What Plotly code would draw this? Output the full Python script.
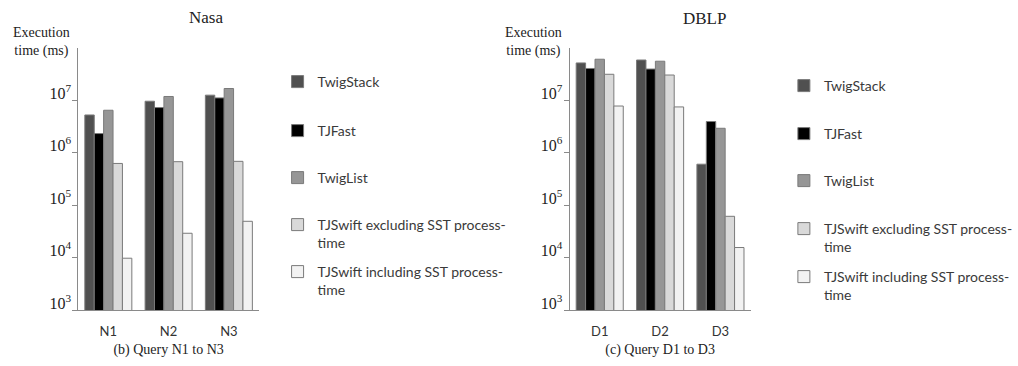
import plotly.graph_objects as go

# Query categories for the two datasets
nasa_queries = ["N1", "N2", "N3"]
dblp_queries = ["D1", "D2", "D3"]

# Series names
series_names = [
    "TwigStack",
    "TJFast",
    "TwigList",
    "TJSwift excluding SST process-<br>time",
    "TJSwift including SST process-<br>time",
]

# Execution time (ms), Nasa queries
nasa_twigstack = [5.2e6, 9.5e6, 1.24e7]
nasa_tjfast = [2.3e6, 7.2e6, 1.1e7]
nasa_twiglist = [6.4e6, 1.17e7, 1.66e7]
nasa_tjswift_excl = [6.2e5, 6.7e5, 6.8e5]
nasa_tjswift_incl = [9.7e3, 2.9e4, 4.9e4]

# Execution time (ms), DBLP queries
dblp_twigstack = [5.1e7, 5.8e7, 6.0e5]
dblp_tjfast = [4.0e7, 3.9e7, 3.9e6]
dblp_twiglist = [6.0e7, 5.5e7, 2.9e6]
dblp_tjswift_excl = [3.1e7, 3.0e7, 6.1e4]
dblp_tjswift_incl = [7.7e6, 7.4e6, 1.55e4]

# Log-axis ticks
tick_values = [1e3, 1e4, 1e5, 1e6, 1e7]
tick_labels = ["10<sup>3</sup>", "10<sup>4</sup>", "10<sup>5</sup>",
               "10<sup>6</sup>", "10<sup>7</sup>"]

colors = ["#505050", "#000000", "#969696", "#d9d9d9", "#f2f2f2"]

SERIF = "Liberation Serif"
SANS = "Lato"

W, H = 1018, 366

nasa_series = [nasa_twigstack, nasa_tjfast, nasa_twiglist,
               nasa_tjswift_excl, nasa_tjswift_incl]
dblp_series = [dblp_twigstack, dblp_tjfast, dblp_twiglist,
               dblp_tjswift_excl, dblp_tjswift_incl]

# Each legend entry sits in its own legend box so the spacing can be set
# per entry: (left px, top px) for the Nasa and DBLP legend columns.
nasa_legend_left = 284
dblp_legend_left = 802
nasa_legend_tops = [66, 115, 162, 209, 256]
dblp_legend_tops = [70, 118, 165, 213, 261]

legend_style = dict(
    font=dict(family=SANS, size=14, color="#3a3a3a"),
    bgcolor="rgba(0,0,0,0)",
    valign="top",
    itemwidth=30,
    xanchor="left",
    yanchor="top",
)

fig = go.Figure()
legends = {}

for i, (name, vals) in enumerate(zip(series_names, nasa_series)):
    lid = "legend" if i == 0 else "legend%d" % (i + 1)
    legends[lid] = dict(**legend_style, x=nasa_legend_left / W,
                        y=1 - nasa_legend_tops[i] / H)
    fig.add_trace(go.Bar(
        x=nasa_queries, y=vals, name=name,
        marker=dict(color=colors[i], line=dict(color="#7a7a7a", width=1)),
        xaxis="x", yaxis="y", legend=lid,
    ))

for i, (name, vals) in enumerate(zip(series_names, dblp_series)):
    lid = "legend%d" % (i + 6)
    legends[lid] = dict(**legend_style, x=dblp_legend_left / W,
                        y=1 - dblp_legend_tops[i] / H)
    fig.add_trace(go.Bar(
        x=dblp_queries, y=vals, name=name,
        marker=dict(color=colors[i], line=dict(color="#7a7a7a", width=1)),
        xaxis="x2", yaxis="y2", legend=lid,
    ))

yaxis_style = dict(
    type="log", range=[3, 8],
    tickvals=tick_values, ticktext=tick_labels,
    tickfont=dict(family=SERIF, size=16, color="#222"),
    ticks="outside", ticklen=5, tickcolor="#8a8a8a",
    ticklabelshift=-7, ticklabelstandoff=-2,
    showline=True, linecolor="#8a8a8a", linewidth=1,
    showgrid=False, zeroline=False, automargin=False,
    domain=[0.153, 0.870],
)

xaxis_style = dict(
    showline=True, linecolor="#8a8a8a", linewidth=1,
    ticks="", showgrid=False, zeroline=False, automargin=False,
    ticklabelstandoff=9,
    tickfont=dict(family=SANS, size=13, color="#333"),
)

title_font = dict(family=SERIF, size=17, color="#222")
label_font = dict(family=SERIF, size=14, color="#222")

fig.update_layout(
    width=W, height=H,
    margin=dict(l=0, r=0, t=0, b=0),
    paper_bgcolor="white", plot_bgcolor="white",
    barmode="group", bargap=0.22, bargroupgap=0,
    xaxis=dict(**xaxis_style, domain=[0.0786, 0.2603], anchor="y",
               title=dict(text="(b) Query N1 to N3", font=label_font, standoff=6)),
    yaxis=dict(**yaxis_style, anchor="x"),
    xaxis2=dict(**xaxis_style, domain=[0.5724, 0.7544], anchor="y2",
                title=dict(text="(c) Query D1 to D3", font=label_font, standoff=6)),
    yaxis2=dict(**yaxis_style, anchor="x2"),
    showlegend=True,
    annotations=[
        dict(text="Nasa", x=211 / W, y=1 - 17 / H, xref="paper", yref="paper",
             xanchor="center", yanchor="middle", showarrow=False, font=title_font),
        dict(text="DBLP", x=721 / W, y=1 - 18 / H, xref="paper", yref="paper",
             xanchor="center", yanchor="middle", showarrow=False, font=title_font),
        dict(text="Execution<br>time (ms)", x=42 / W, y=1 - 42 / H,
             xref="paper", yref="paper", xanchor="center", yanchor="middle",
             showarrow=False, font=label_font),
        dict(text="Execution<br>time (ms)", x=546 / W, y=1 - 42 / H,
             xref="paper", yref="paper", xanchor="center", yanchor="middle",
             showarrow=False, font=label_font),
    ],
)
fig.update_layout(**legends)

fig.write_html("out.html")
